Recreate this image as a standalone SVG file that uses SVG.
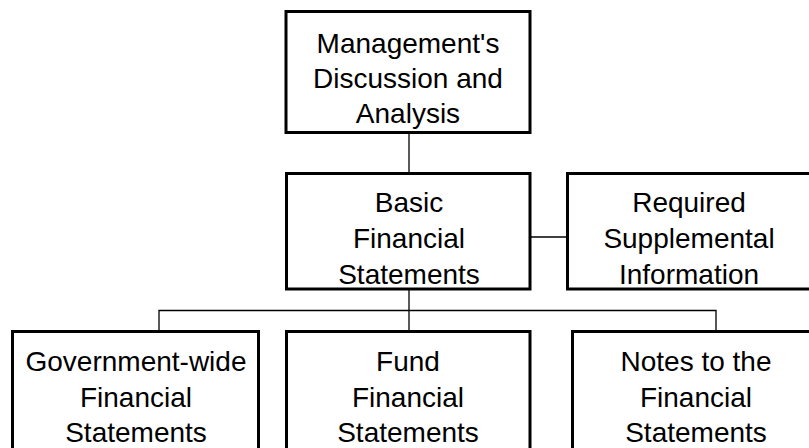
<svg xmlns="http://www.w3.org/2000/svg" width="809" height="448" viewBox="0 0 809 448">
<style>
.box{fill:#fff;stroke:#000;stroke-width:3}
.ln{fill:none;stroke:#000;stroke-width:1.3}
text{font-family:"Liberation Sans",Arial,sans-serif;font-size:28px;fill:#000;text-anchor:middle}
</style>
<rect width="809" height="448" fill="#fff"/>
<g id="connectors">
<line class="ln" x1="409" y1="133" x2="409" y2="173"/>
<line class="ln" x1="530" y1="237" x2="568" y2="237"/>
<line class="ln" x1="409" y1="289" x2="409" y2="332"/>
<polyline class="ln" points="159,332 159,310.5 716,310.5 716,332"/>
</g>
<g id="mda">
<rect class="box" x="286" y="11.5" width="244" height="121"/>
<text x="408" y="53">Management's</text>
<text x="408" y="88">Discussion and</text>
<text x="408" y="123">Analysis</text>
</g>
<g id="basic">
<rect class="box" x="286.5" y="173.5" width="243.5" height="115.5"/>
<text x="409" y="212">Basic</text>
<text x="409" y="248">Financial</text>
<text x="409" y="284">Statements</text>
</g>
<g id="rsi">
<rect class="box" x="567.5" y="173.5" width="243" height="115.5"/>
<text x="689" y="212">Required</text>
<text x="689" y="248">Supplemental</text>
<text x="689" y="284">Information</text>
</g>
<g id="govwide">
<rect class="box" x="12.5" y="331.5" width="246" height="130"/>
<text x="136" y="371">Government-wide</text>
<text x="136" y="407">Financial</text>
<text x="136" y="442">Statements</text>
</g>
<g id="fund">
<rect class="box" x="286.5" y="331.5" width="243.5" height="130"/>
<text x="408" y="371">Fund</text>
<text x="408" y="407">Financial</text>
<text x="408" y="442">Statements</text>
</g>
<g id="notes">
<rect class="box" x="572.5" y="331.5" width="246" height="130"/>
<text x="696" y="371">Notes to the</text>
<text x="696" y="407">Financial</text>
<text x="696" y="442">Statements</text>
</g>
</svg>
